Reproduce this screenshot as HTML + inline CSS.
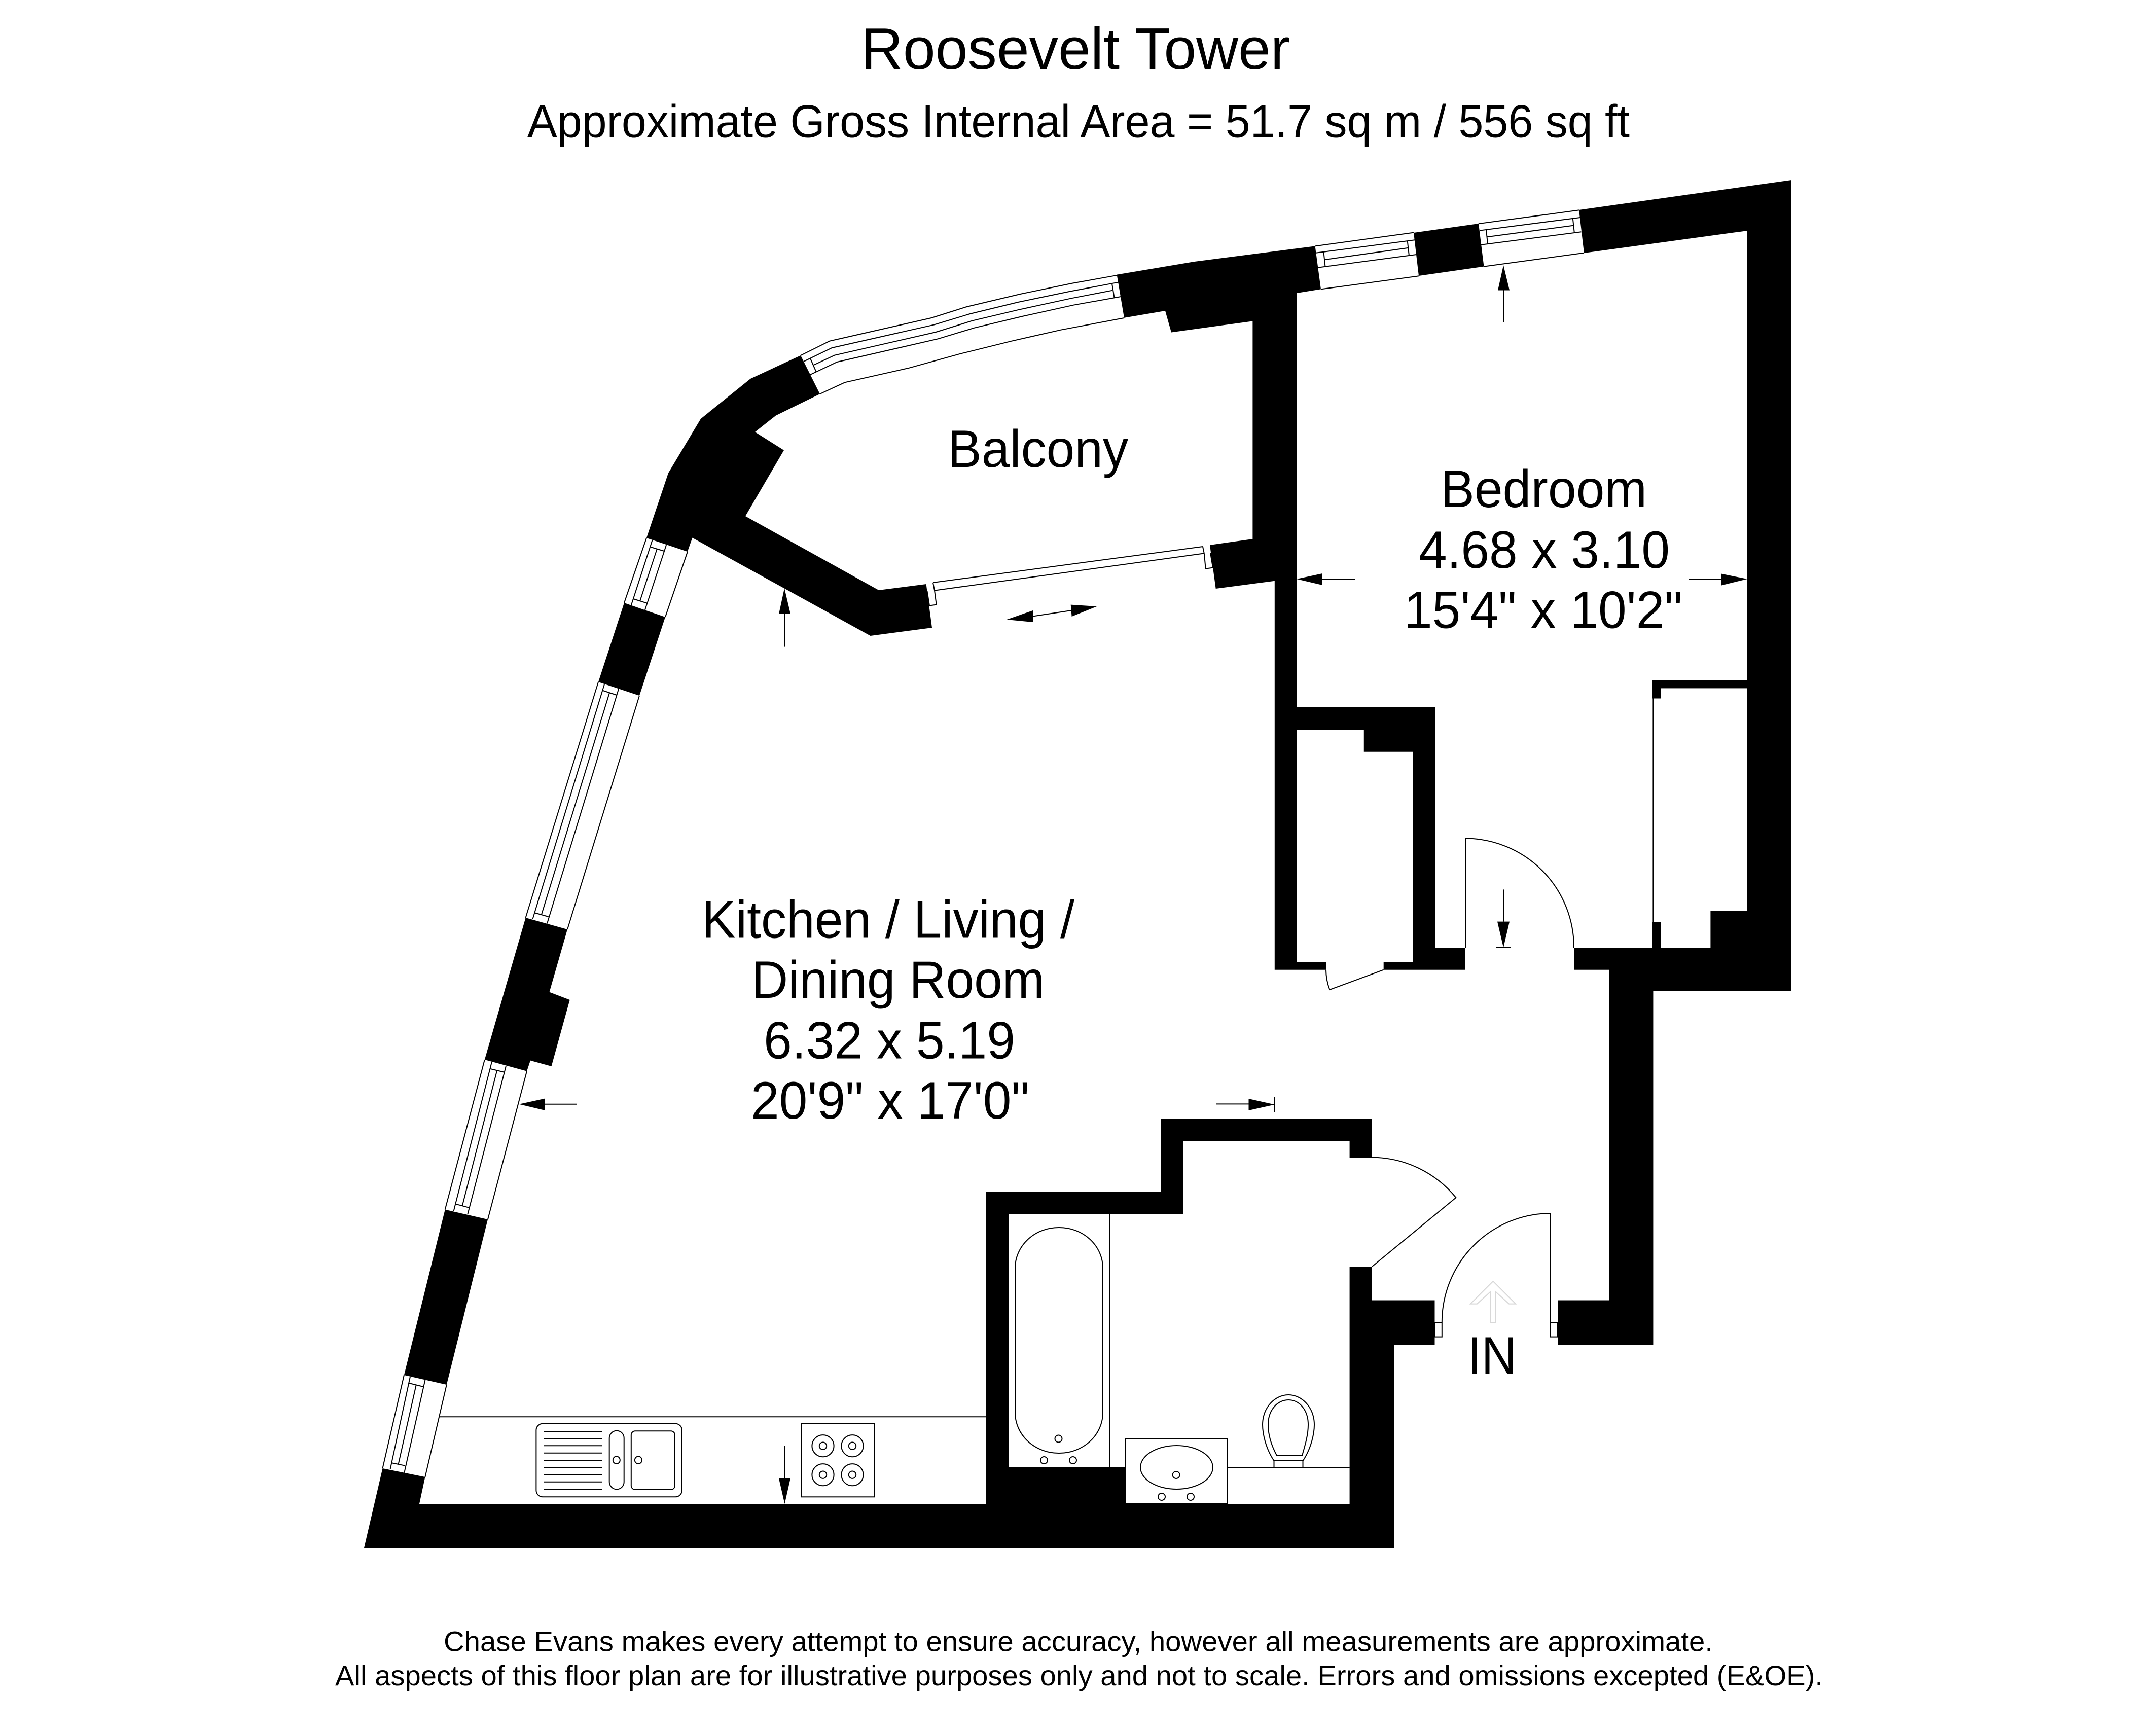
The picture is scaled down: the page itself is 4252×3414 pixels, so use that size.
<!DOCTYPE html>
<html><head><meta charset="utf-8"><title>Roosevelt Tower</title>
<style>html,body{margin:0;padding:0;background:#fff}svg{display:block}text{font-family:"Liberation Sans",Arial,sans-serif;fill:#000}</style></head>
<body>
<svg xmlns="http://www.w3.org/2000/svg" width="4252" height="3414" viewBox="0 0 4252 3414">
<rect width="4252" height="3414" fill="#fff"/>
<!-- walls -->
<g fill="#000">
<polygon points="3114,414 3533,355 3533,1954 3260.4,1954 3260.4,2652 3072,2652 3072,2564.5 3174,2564.5 3174,1912.7 3104,1912.7 3104,1869 3373.4,1869 3373.4,1796.5 3446,1796.5 3446,455 3124,499"/>
<polygon points="2788,459 2916,441 2926.5,525.6 2798,544"/>
<polygon points="2202.6,541.6 2355.6,516 2593.6,485.4 2605,570.4 2557.8,578 2557.8,1897 2615,1897 2615,1912.7 2513.8,1912.7 2513.8,1145.7 2397.7,1161 2386,1075 2470.4,1063 2470.4,633.4 2310,655.5 2298,613 2217,626.7"/>
<polygon points="2557.8,1395 2830.6,1395 2830.6,1869 2890,1869 2890,1912.7 2728.7,1912.7 2728.7,1897 2786,1897 2786,1482.7 2689.8,1482.7 2689.8,1439.7 2557.8,1439.7"/>
<polygon points="1579,701 1480,747 1382,826 1318,933 1275,1061 1355.8,1088 1365.5,1060.6 1716.6,1254 1838,1238 1826.6,1152 1733,1164 1470,1018 1546,888 1489,852 1530,819.6 1617,777"/>
<polygon points="1231,1189 1312,1217 1261,1372 1180,1345"/>
<polygon points="1036.6,1810 1119,1833 1083.5,1956.6 1123.7,1972 1087.5,2103 1046,2091.6 1039,2112.6 955.8,2090"/>
<polygon points="877.7,2385.6 962,2405 880.8,2731 796.9,2712"/>
<polygon points="754.5,2896 838.4,2913 827,2966 1944.6,2966 1944.6,2350 2289,2350 2289,2206 2706,2206 2706,2284 2661.6,2284 2661.6,2251 2333,2251 2333,2394 1989,2394 1989,2894 2219.6,2894 2219.6,2966 2661.6,2966 2661.6,2498 2706,2498 2706,2564.5 2829.5,2564.5 2829.5,2652 2749,2652 2749,3053 718,3053"/>
<rect x="3259" y="1342" width="274" height="15.4"/>
<rect x="3259" y="1357" width="16" height="20.5"/>
<rect x="3259" y="1819" width="16" height="50"/>
</g>
<!-- fine lines -->
<g fill="none" stroke="#000" stroke-width="2">
<!-- balcony window -->
<polyline points="1579,701 1636,672.7 1837,627 1906.7,605 2012,580 2113,559 2204,542.7"/>
<polyline points="1585.6,712.7 1640.7,686 1841.5,640.7 1913,619 2007.7,596 2108.7,575 2205.5,556.7"/>
<polyline points="1604.5,720 1645.8,700.7 1845.7,655 1917,632.7 2009.8,610.7 2113,588.3 2194,572.7"/>
<polyline points="1598,739 1650.8,714 1849.9,668.3 1921.4,646.7 2016,624 2117,601.7 2210.6,585"/>
<polyline points="2217.3,627 2092,650.7 1995,672.7 1894,697.7 1793,725.7 1666,754.3 1617,777"/>
<line x1="1598.2" y1="707.3" x2="1609.6" y2="733.3"/>
<line x1="2193" y1="559.3" x2="2197.5" y2="586.7"/>
<!-- top windows -->
<path d="M2593.6 485.4L2788 458.6M2605 570.4L2798 544.3M2595 498.8L2792 473M2610.5 497.5L2613.5 525.6M2775.8 476L2778.8 502.8M2612 512.2L2778 488.8M2599.7 527.6L2793.4 502"/>
<path d="M2915.8 441.2L3114 414.4M2926.5 525.6L3124 498.8M2918 454.6L3116.3 429M2931 453.3L2934 481.4M3101.8 430.5L3104.8 458.6M2932.6 467.3L3103.3 444.6M2921 482.7L3118.6 457.3"/>
<!-- left windows -->
<path d="M1275 1061L1231 1189M1356 1088L1312 1217M1286.6 1065L1245 1193M1283.5 1079L1310 1087M1295.5 1083.5L1262 1185.6M1314 1075L1272 1203M1248.7 1181L1275.4 1189.4"/>
<path d="M1180 1345L1036.6 1810M1261 1372L1119 1833M1192 1349.5L1050.4 1813M1189.3 1362L1216.5 1371M1201.8 1367L1068 1803.6M1220 1359L1079 1821.4M1054.5 1800.4L1081.7 1808"/>
<path d="M955.8 2090L877.7 2385.6M1039 2112.6L962 2405M970 2094L894.6 2388.8M967 2108L993.7 2114.5M980 2112L911.6 2378.6M997.8 2103L922.3 2395M898.7 2374.7L925 2381.8"/>
<path d="M796.9 2712L754.5 2896M880.8 2731L838.4 2913M809 2715L769.6 2897.7M807 2728L835 2735M820.5 2732.5L785.7 2887.5M838.4 2721.7L797.3 2904.7M771.4 2885L799 2890.7"/>
<!-- sliding door -->
<path d="M1840 1149L2372 1078M1843.8 1164.5L2374.8 1091.4"/>
<polyline points="1828.5,1166 1833,1194.5 1846.7,1192.6 1843,1164.5"/>
<polyline points="2374.8,1091.4 2377.7,1121.6 2392,1119.6 2387,1090"/>
<line x1="1840" y1="1149" x2="1843" y2="1164.5"/>
<line x1="2372" y1="1078" x2="2374.8" y2="1091.4"/>
<!-- doors -->
<path d="M2890 1869V1653.5A215 215 0 0 1 3104 1869"/>
<path d="M2615 1912.7A113 113 0 0 0 2622.4 1952L2728.7 1912.7"/>
<path d="M2706 2282.6A215.4 215.4 0 0 1 2871.4 2362L2706 2498"/>
<path d="M3058 2636.6V2393A215 215 0 0 0 2843.8 2608"/>
<rect x="2829.5" y="2608" width="14.3" height="28.6"/>
<rect x="3058" y="2608" width="14" height="28.6"/>
<line x1="3260.4" y1="1377.5" x2="3260.4" y2="1819"/>
<line x1="2950" y1="1869" x2="2980" y2="1869"/>
<!-- kitchen -->
<line x1="865.8" y1="2794.3" x2="1944.6" y2="2794.3"/>
<rect x="1057.4" y="2807.7" width="287.6" height="144.6" rx="13"/>
<path d="M1072 2823H1187.6M1072 2837.3H1187.6M1072 2851.3H1187.6M1072 2865.7H1187.6M1072 2880H1187.6M1072 2894.3H1187.6M1072 2908.3H1187.6M1072 2922.7H1187.6M1072 2937.7H1187.6"/>
<rect x="1201.7" y="2821.7" width="29" height="115.6" rx="14.5" ry="14.5"/>
<ellipse cx="1215.8" cy="2879.7" rx="7" ry="7.3"/>
<rect x="1244.8" y="2822.3" width="86.2" height="115.7" rx="8"/>
<ellipse cx="1258.9" cy="2879.7" rx="7" ry="7.3"/>
<rect x="1580.6" y="2808" width="143.4" height="144.3"/>
<circle cx="1623" cy="2851.7" r="21.6"/><circle cx="1623" cy="2851.7" r="7.2"/>
<circle cx="1681" cy="2851.7" r="21.6"/><circle cx="1681" cy="2851.7" r="7.2"/>
<circle cx="1623" cy="2908.7" r="21.6"/><circle cx="1623" cy="2908.7" r="7.2"/>
<circle cx="1681" cy="2908.7" r="21.6"/><circle cx="1681" cy="2908.7" r="7.2"/>
<!-- bathroom -->
<line x1="2189" y1="2394" x2="2189" y2="2894"/>
<rect x="2002" y="2421" width="173" height="445" rx="86" ry="80"/>
<circle cx="2087.5" cy="2837.5" r="7"/><circle cx="2059" cy="2880" r="7"/><circle cx="2116" cy="2880" r="7"/>
<rect x="2219.6" y="2837.5" width="200.9" height="128.5"/>
<ellipse cx="2320.5" cy="2894" rx="71.4" ry="43"/>
<circle cx="2319.6" cy="2909" r="7"/><circle cx="2291" cy="2952" r="7"/><circle cx="2348" cy="2952" r="7"/>
<line x1="2420.5" y1="2894" x2="2661.6" y2="2894"/>
<path d="M2512.5 2881C2495 2855 2490 2825 2490 2810C2490 2775 2515 2751 2541 2751C2567 2751 2592 2775 2592 2810C2592 2825 2587 2855 2569.6 2881"/>
<path d="M2518 2870.7C2507 2850 2501 2830 2501 2810C2501 2780 2520 2761 2541 2761C2562 2761 2580 2780 2580 2810C2580 2830 2574 2850 2568 2870.7Z"/>
<rect x="2512.5" y="2881" width="57" height="13"/>
<!-- dimension arrow stems -->
<path d="M3331 1142H3395M2608 1142H2672M2965 635.4V572M1547 1211V1275.6M2037 1215.5L2112.5 1204M1074 2177.7H1138M2399 2177.4H2462.5M2514 2163V2193.4M1547.5 2851.7V2915M2965 1754.4V1817.6"/>
</g>
<!-- arrow heads -->
<g fill="#000">
<polygon points="3446,1142 3395,1131.6 3395,1154.5"/>
<polygon points="2557,1142 2608,1131 2608,1154"/>
<polygon points="2965,523 2954,572.5 2977,572.5"/>
<polygon points="1547,1160 1536,1211 1559,1211"/>
<polygon points="1985.4,1222 2037,1204 2037,1227"/>
<polygon points="2163,1196 2111.7,1192.6 2113.6,1216"/>
<polygon points="1023.7,2177.7 1074,2166.8 1074,2189.8"/>
<polygon points="2514,2178.5 2462.5,2167 2462.5,2190"/>
<polygon points="1547.5,2966 1535.8,2915 1559,2915"/>
<polygon points="2965,1868.7 2953,1817.6 2977,1817.6"/>
</g>
<!-- IN arrow -->
<path d="M2900 2571.6L2944.6 2527L2989 2571.6L2976 2571.6L2950 2548V2609H2939V2548L2913 2571.6Z" fill="none" stroke="#d8d8d8" stroke-width="2"/>
<!-- labels -->
<text x="1698" y="136" font-size="116" textLength="846" lengthAdjust="spacingAndGlyphs">Roosevelt Tower</text>
<text x="1040" y="270.7" font-size="91" textLength="2174" lengthAdjust="spacingAndGlyphs">Approximate Gross Internal Area = 51.7 sq m / 556 sq ft</text>
<text x="1869" y="921" font-size="104" textLength="356" lengthAdjust="spacingAndGlyphs">Balcony</text>
<text x="2841" y="1000" font-size="104" textLength="407" lengthAdjust="spacingAndGlyphs">Bedroom</text>
<text x="2798" y="1120" font-size="104" textLength="495" lengthAdjust="spacingAndGlyphs">4.68 x 3.10</text>
<text x="2769" y="1238.7" font-size="104" textLength="549" lengthAdjust="spacingAndGlyphs">15'4" x 10'2"</text>
<text x="1384" y="1849.4" font-size="104" textLength="735" lengthAdjust="spacingAndGlyphs">Kitchen / Living /</text>
<text x="1482" y="1967.9" font-size="104" textLength="578" lengthAdjust="spacingAndGlyphs">Dining Room</text>
<text x="1506" y="2087.3" font-size="104" textLength="496" lengthAdjust="spacingAndGlyphs">6.32 x 5.19</text>
<text x="1481" y="2206" font-size="104" textLength="549" lengthAdjust="spacingAndGlyphs">20'9" x 17'0"</text>
<text x="2895" y="2709" font-size="104" textLength="96" lengthAdjust="spacingAndGlyphs">IN</text>
<text x="875" y="3256.7" font-size="56" textLength="2503" lengthAdjust="spacingAndGlyphs">Chase Evans makes every attempt to ensure accuracy, however all measurements are approximate.</text>
<text x="661" y="3324" font-size="56" textLength="2934" lengthAdjust="spacingAndGlyphs">All aspects of this floor plan are for illustrative purposes only and not to scale. Errors and omissions excepted (E&amp;OE).</text>
</svg>
</body></html>
